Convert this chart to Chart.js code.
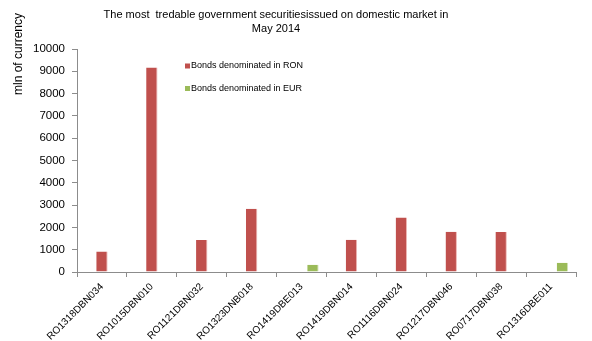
<!DOCTYPE html>
<html>
<head>
<meta charset="utf-8">
<script src="https://cdn.jsdelivr.net/npm/chart.js@4/dist/chart.umd.min.js"></script>
<style>
  html, body { margin: 0; padding: 0; background: #fff; }
  #wrap { width: 592px; height: 341px; }
</style>
</head>
<body>
<div id="wrap"><canvas id="c" width="592" height="341"></canvas></div>
<script>
// Securities traded on the domestic market, May 2014 (mln of currency)
const categories = [
  'RO1318DBN034', 'RO1015DBN010', 'RO1121DBN032', 'RO1323DNB018', 'RO1419DBE013',
  'RO1419DBN014', 'RO1116DBN024', 'RO1217DBN046', 'RO0717DBN038', 'RO1316DBE011'
];
const ronValues = [920, 9170, 1430, 2835, null, 1445, 2445, 1805, 1790, null];
const eurValues = [null, null, null, null, 325, null, null, null, null, 415];
const yTicks = { min: 0, max: 10000, step: 1000 };

const titleLines = ['The most  tredable government securitiesissued on domestic market in', 'May 2014'];
const yTitle = 'mln of currency';
const ronLabel = 'Bonds denominated in RON';
const eurLabel = 'Bonds denominated in EUR';

const RON_COLOR = '#C0504D';
const EUR_COLOR = '#9BBB59';
const AXIS_COLOR = '#8C8C8C';
const FONT = '"Liberation Sans", Arial, sans-serif';

// Title, rotated axis title and the in-plot legend
const decorations = {
  id: 'decorations',
  afterDraw(chart) {
    const ctx = chart.ctx;
    ctx.save();
    ctx.fillStyle = '#000';
    ctx.textAlign = 'center';
    ctx.textBaseline = 'middle';
    ctx.font = '11px ' + FONT;
    titleLines.forEach((t, i) => ctx.fillText(t, 276, 15 + i * 14));

    ctx.save();
    ctx.translate(19, 54);
    ctx.rotate(-Math.PI / 2);
    ctx.font = '12px ' + FONT;
    ctx.fillText(yTitle, 0, 0);
    ctx.restore();

    ctx.textAlign = 'left';
    ctx.font = '9px ' + FONT;
    const items = chart.data.datasets.filter(d => d.label);
    items.forEach((d, i) => {
      const y = 66 + i * 22.5;
      ctx.fillStyle = d.backgroundColor;
      ctx.fillRect(185, y - 2.5, 5, 5);
      ctx.fillStyle = '#000';
      ctx.fillText(d.label, 191, y);
    });
    ctx.restore();
  }
};

const barStyle = {
  borderWidth: { top: 0, left: 0, bottom: 0, right: 1 },
  borderSkipped: false,
  categoryPercentage: 0.685,
  barPercentage: 1.0
};

new Chart(document.getElementById('c'), {
  type: 'bar',
  data: {
    labels: categories,
    datasets: [
      // empty leading slot keeps RON bars on the category centre
      Object.assign({ label: '', data: categories.map(() => null), backgroundColor: 'rgba(0,0,0,0)' }, barStyle),
      Object.assign({ label: ronLabel, data: ronValues, backgroundColor: RON_COLOR, borderColor: '#EDB7B5' }, barStyle),
      Object.assign({ label: eurLabel, data: eurValues, backgroundColor: EUR_COLOR, borderColor: '#D3E4B6' }, barStyle)
    ]
  },
  options: {
    responsive: false,
    animation: false,
    layout: { padding: { top: 49, left: 0, right: 16, bottom: 0 } },
    plugins: {
      legend: { display: false },
      title: { display: false },
      tooltip: { enabled: false }
    },
    scales: {
      x: {
        offset: true,
        grid: { offset: true, drawOnChartArea: false, tickLength: 5, color: AXIS_COLOR },
        border: { color: AXIS_COLOR },
        ticks: {
          minRotation: 45, maxRotation: 45, autoSkip: false,
          color: '#000', padding: 4,
          font: { family: FONT, size: 10 }
        },
        afterFit(scale) { scale.height = 69; }
      },
      y: {
        min: yTicks.min, max: yTicks.max,
        grid: { drawOnChartArea: false, tickLength: 5, color: AXIS_COLOR },
        border: { color: AXIS_COLOR },
        ticks: {
          stepSize: yTicks.step, color: '#000', padding: 7,
          font: { family: FONT, size: 11.5 },
          callback: v => String(v)
        },
        afterFit(scale) { scale.width = 77; }
      }
    }
  },
  plugins: [decorations]
});
</script>
</body>
</html>
